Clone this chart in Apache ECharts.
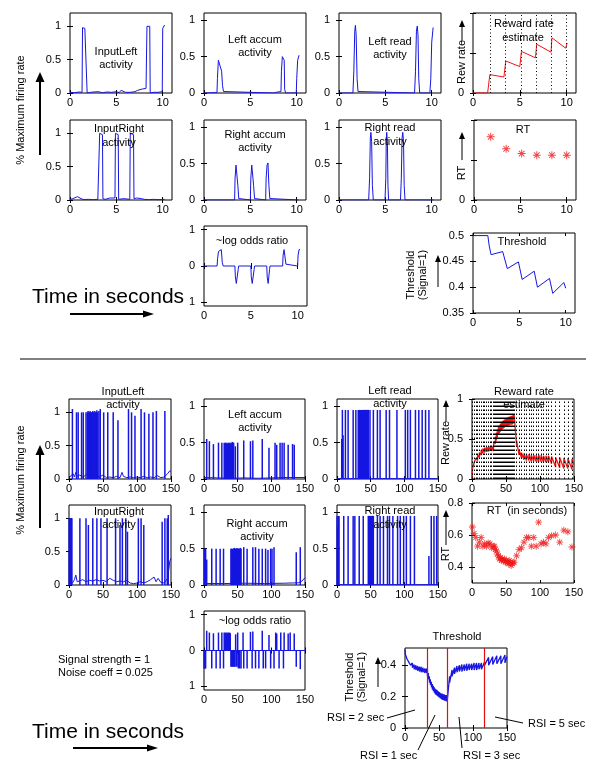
<!DOCTYPE html>
<html><head><meta charset="utf-8">
<script src="https://cdn.jsdelivr.net/npm/echarts@6/dist/echarts.min.js"></script>
<style>html,body{margin:0;padding:0;background:#fff}#c{width:601px;height:773px}</style>
</head><body><div id="c"></div>
<script>
// ================= DATA =================
const topXTicks = [0, 5, 10];
const botXTicks = [0, 50, 100, 150];

// ---- top (10 s run) ----
const topInputLeft = [[0,0.01],[0.5,0.005],[1,0.015],[1.3,0.01],[1.35,0.98],[1.6,0.97],[1.8,0.95],[1.85,0.0],[2.2,0.01],[3,0.02],[3.5,0.005],[4,0.015],[4.5,0.01],[5,0.02],[5.3,0.005],[5.5,0.04],[5.6,0.01],[6,0.01],[6.5,0.01],[7,0.02],[7.3,0.04],[7.8,0.06],[8.2,0.07],[8.3,1.0],[8.6,1.0],[8.65,0.0],[9,0.01],[9.5,0.01],[9.95,0.02],[10,0.97],[10.1,0.98],[10.2,1.02]];
const topLeftAccum = [[0,0],[1.4,0.005],[1.45,0.2],[1.55,0.45],[1.75,0.47],[1.9,0.3],[2.0,0.1],[2.1,0.02],[2.2,0],[7.5,0],[7.8,0.01],[8.3,0.02],[8.35,0.3],[8.45,0.5],[8.65,0.45],[8.7,0.05],[8.8,0],[9.95,0],[10.0,0.2],[10.1,0.45],[10.25,0.52]];
const topLeftRead = [[0,0],[1.5,0],[1.6,0.3],[1.7,0.85],[1.77,0.93],[1.85,0.8],[1.95,0.2],[2.05,0.02],[2.1,0],[8.15,0],[8.25,0.3],[8.35,0.85],[8.44,0.92],[8.52,0.8],[8.6,0.2],[8.7,0],[9.8,0],[9.9,0.2],[10.0,0.7],[10.15,0.9]];
const topInputRight = [[0,0.01],[0.3,0.02],[0.8,0.05],[1,0.03],[1.2,0.02],[1.5,0.005],[2,0.01],[2.5,0.005],[3.0,0.01],[3.18,0.02],[3.2,1.0],[3.5,0.98],[3.55,0.02],[3.8,0.01],[4.3,0.03],[4.85,0.03],[4.9,1.0],[5.2,0.98],[5.25,0.01],[5.8,0.02],[6.45,0.01],[6.5,1.0],[6.85,0.98],[6.9,0.02],[7.2,0.03],[7.7,0.02],[8,0.01],[8.5,0.005],[9,0.01],[9.5,0.005],[10.2,0.01]];
const topRightAccum = [[0,0],[3.3,0],[3.35,0.3],[3.45,0.48],[3.55,0.5],[3.65,0.2],[3.75,0.02],[3.85,0],[5.0,0],[5.05,0.3],[5.15,0.48],[5.25,0.5],[5.35,0.2],[5.45,0.02],[5.55,0],[6.65,0],[6.7,0.3],[6.8,0.48],[6.9,0.51],[7.0,0.2],[7.1,0.02],[7.2,0],[10.2,0]];
const topRightRead = [[0,0],[3.2,0],[3.3,0.3],[3.38,0.85],[3.44,0.93],[3.52,0.8],[3.6,0.2],[3.7,0],[4.96,0],[5.05,0.3],[5.1,0.85],[5.15,0.93],[5.22,0.8],[5.28,0.2],[5.35,0],[6.63,0],[6.72,0.3],[6.8,0.85],[6.88,0.93],[6.96,0.8],[7.03,0.2],[7.12,0],[10.2,0]];
const topLogOdds = [[0,0],[1.4,0],[1.45,0.2],[1.55,0.4],[1.7,0.45],[1.85,0.45],[1.95,0.1],[2.05,0],[3.3,0],[3.35,-0.3],[3.45,-0.48],[3.6,-0.5],[3.65,-0.1],[3.7,0],[5.0,0],[5.05,-0.3],[5.15,-0.48],[5.3,-0.5],[5.35,-0.1],[5.4,0],[6.7,0],[6.75,-0.3],[6.85,-0.48],[6.95,-0.5],[7.0,-0.1],[7.05,0],[8.4,0],[8.45,0.3],[8.55,0.45],[8.7,0.45],[8.75,0.05],[8.8,0],[10.0,0],[10.05,0.3],[10.15,0.45],[10.25,0.45]];
const topTrialTimes = [1.8, 3.47, 5.14, 6.77, 8.4, 10.0];
const topRT = [0.79, 0.64, 0.58, 0.56, 0.56, 0.56];
const topRewardRate = [[0,0],[1.56,0],[1.74,0.01],[1.8,0.23],[3.3,0.2],[3.47,0.2],[3.5,0.4],[5.0,0.33],[5.14,0.33],[5.17,0.52],[6.67,0.44],[6.77,0.44],[6.8,0.61],[8.33,0.51],[8.4,0.51],[8.43,0.69],[9.9,0.56],[10.0,0.56],[10.05,0.625]];
const topThreshold = [[0,0.5],[1.6,0.5],[1.75,0.48],[1.95,0.463],[3.2,0.469],[3.4,0.468],[3.7,0.436],[4.9,0.449],[5.1,0.446],[5.3,0.415],[6.6,0.431],[6.75,0.43],[6.95,0.40],[8.25,0.417],[8.4,0.416],[8.6,0.388],[9.8,0.409],[10.0,0.398]];

// ---- bottom (150 s run) ----
const botInputLeftSpikes = [[5,1.05],[11,1.0],[13.5,1.0],[18.5,1.0],[21,1.0],[25,1.0],[27,1.0],[28,1.02],[29,1.0],[30,1.0],[31,1.02],[32,1.0],[33,1.0],[34,1.0],[35,1.02],[36,1.0],[37,1.0],[38,1.02],[39,1.0],[40,1.0],[41,1.03],[42,1.0],[44,1.02],[46,1.05],[51,1.0],[57,1.0],[65,1.0],[72,0.88],[87.5,1.05],[92,1.0],[97,0.95],[106,1.05],[111,1.0],[117.5,0.98],[123.5,1.0],[128.5,1.02],[141,1.02]];
const botInputLeftBase = [[0,0.02],[3,0.05],[6,0.08],[8,0.03],[10,0.1],[12,0.04],[16,0.06],[20,0.03],[24,0.05],[28,0.1],[32,0.04],[40,0.05],[45,0.03],[50,0.06],[55,0.02],[60,0.03],[65,0.02],[70,0.04],[75,0.02],[78,0.1],[80,0.04],[85,0.02],[90,0.03],[95,0.02],[100,0.03],[105,0.02],[110,0.04],[115,0.02],[120,0.03],[125,0.02],[130,0.05],[135,0.02],[140,0.03],[145,0.08],[148,0.12],[150,0.12]];
const botLeftAccumSpikes = [[4,0.55],[8,0.52],[14,0.48],[21.5,0.5],[26.5,0.5],[30,0.5],[31,0.48],[32,0.5],[33,0.49],[34,0.5],[35,0.48],[36,0.5],[37,0.49],[38,0.5],[39,0.48],[40,0.5],[41,0.49],[42,0.51],[43,0.5],[44,0.5],[46.5,0.45],[50,0.5],[59,0.53],[69,0.52],[72.5,0.53],[86.5,0.55],[96.5,0.43],[105.5,0.5],[108,0.47],[113,0.5],[116,0.5],[119,0.5],[125,0.47],[131.5,0.48],[134,0.47]];
const botLeftAccumBase = [[0,0.02],[20,0.015],[40,0.01],[60,0.015],[80,0.01],[100,0.015],[120,0.02],[150,0.02]];
const botLeftReadSpikes = [[7,0.55],[8,0.95],[9,0.6],[12.5,0.95],[16.5,0.95],[24,0.95],[28,0.95],[31.5,0.95],[32.5,0.95],[33.5,0.95],[34.5,0.95],[35.5,0.95],[36.5,0.95],[37.5,0.95],[38.5,0.95],[39.5,0.95],[40.5,0.95],[41.5,0.95],[42.5,0.95],[43.5,0.95],[44.5,0.95],[45.5,0.95],[46.5,0.95],[49,0.95],[54,0.95],[60,0.95],[64,0.95],[73,0.95],[78,0.95],[89,0.95],[101.5,0.95],[105,0.95],[109,0.95],[116.5,0.95],[121.5,0.95],[126.5,0.95],[131.5,0.95],[136.5,0.95]];
const botInputRightSpikes = [[0,1.0],[0.7,1.0],[1.4,1.0],[2.1,1.0],[2.8,1.0],[3.5,1.0],[4.2,1.0],[16,1.0],[25,1.0],[28.5,0.9],[35,1.0],[41,1.0],[47,1.0],[56,1.0],[68.5,1.0],[75,0.9],[78.5,1.0],[83.5,1.0],[86,0.8],[102,1.0],[106,1.0],[110,0.9],[137,0.95],[141,1.0],[144.5,1.0],[146,1.05]];
const botInputRightBase = [[0,0.05],[5,0.03],[8,0.08],[10,0.15],[12,0.05],[15,0.06],[20,0.08],[25,0.05],[30,0.07],[35,0.06],[40,0.08],[45,0.06],[50,0.07],[55,0.05],[60,0.1],[65,0.07],[70,0.05],[75,0.06],[80,0.05],[85,0.07],[90,0.03],[95,0.02],[100,0.03],[105,0.05],[110,0.03],[115,0.05],[120,0.08],[125,0.12],[128,0.05],[131,0.1],[135,0.04],[140,0.03],[145,0.1],[147,0.25],[148,0.35],[150,0.4]];
const botRightAccumSpikes = [[0,0.5],[0.8,0.5],[1.6,0.5],[2.4,0.5],[4,0.35],[11.5,0.5],[18,0.5],[24,0.5],[29,0.5],[40,0.5],[41,0.5],[42,0.49],[43,0.5],[44,0.5],[45,0.51],[46,0.5],[47,0.5],[48,0.5],[49,0.51],[50,0.5],[51,0.5],[52,0.5],[53,0.5],[54,0.51],[55,0.5],[59,0.52],[64,0.5],[72.5,0.52],[76.5,0.52],[81.5,0.5],[86.5,0.5],[91.5,0.5],[95,0.48],[99,0.5],[101,0.5],[104,0.52],[137,0.45],[143,0.52]];
const botRightAccumBase = [[0,0.02],[30,0.02],[60,0.025],[90,0.02],[120,0.025],[140,0.03],[145,0.05],[150,0.1]];
const botRightReadSpikes = [[0,0.95],[1,0.8],[2,0.95],[3,0.95],[10,0.95],[16.5,0.95],[24,0.95],[26.5,0.95],[33,0.95],[39,0.95],[46.5,0.95],[47.5,0.95],[48.5,0.95],[49.5,0.95],[50.5,0.95],[51.5,0.95],[52.5,0.95],[54,0.95],[60,0.95],[64,0.95],[69,0.95],[75,0.95],[78,0.95],[83,0.95],[90,0.95],[94,0.95],[99,0.95],[103,0.95],[109,0.95],[115,0.95],[136.5,0.4],[140,0.95],[144,0.95],[148,0.95]];
const botLogOddsSpikes = [[0,-0.5],[0.8,-0.5],[1.6,-0.5],[2.4,-0.5],[4,0.55],[8,0.5],[11.5,-0.5],[14,0.48],[18,-0.5],[21.5,0.5],[24,-0.5],[26.5,0.5],[29,-0.5],[30,0.5],[31,0.48],[32,0.5],[33,0.49],[34,0.5],[35,0.48],[36,0.5],[37,0.49],[38,0.5],[39,0.48],[40,-0.45],[41,-0.45],[42,-0.45],[43,-0.45],[44,-0.45],[45,-0.45],[46,-0.45],[47,0.45],[48,-0.45],[49,-0.45],[50,0.5],[51,-0.5],[53,-0.5],[55,-0.5],[58,0.5],[59,-0.5],[64,-0.5],[69,0.52],[71.5,-0.5],[72.5,0.53],[76.5,-0.5],[81.5,-0.5],[86.5,0.55],[88,-0.5],[91.5,-0.5],[96.5,0.43],[99,-0.5],[104,-0.5],[106.5,0.5],[108,0.47],[111.5,-0.5],[114,0.5],[118,-0.5],[119,0.5],[125,0.47],[128,0.5],[134,0.47],[137,-0.45],[143,-0.52]];

const botTrialTimes = [0.5,3,5.6,8.2,10.8,13.4,16,18.6,21.2,23.8,26.4,29,31.6,
  33,34.4,35.9,37.3,38.8,40.2,41.7,43.1,44.6,46,47.5,48.9,50.4,51.8,53.3,54.7,56.2,57.6,59.1,60.5,
  62,65.6,69.2,72.8,76.4,80,83.6,87.2,90.8,94.4,98,101.6,105.2,108.8,112.4,
  117,123,129,135,141,147];
const botRT = [0.65,0.61,0.585,0.53,0.555,0.585,0.53,0.545,0.53,0.55,0.545,0.52,0.53,
  0.53,0.51,0.50,0.48,0.47,0.45,0.46,0.44,0.45,0.44,0.45,0.43,0.44,0.43,0.42,0.44,0.43,0.41,0.42,0.43,
  0.43,0.47,0.51,0.52,0.555,0.585,0.585,0.53,0.585,0.53,0.68,0.545,0.555,0.545,0.585,
  0.595,0.60,0.555,0.63,0.62,0.525];
const botRewLo = [0.0,0.10,0.18,0.23,0.27,0.30,0.32,0.33,0.34,0.34,0.35,0.35,0.35,
  0.40,0.44,0.48,0.52,0.55,0.57,0.59,0.61,0.62,0.63,0.64,0.65,0.66,0.66,0.67,0.67,0.68,0.68,0.68,0.69,
  0.76,0.42,0.30,0.26,0.24,0.23,0.23,0.22,0.22,0.22,0.21,0.22,0.21,0.21,0.21,
  0.19,0.15,0.14,0.13,0.13,0.12];
const botRewHi = [0.12,0.20,0.26,0.30,0.33,0.36,0.38,0.39,0.40,0.40,0.41,0.41,0.42,
  0.47,0.53,0.58,0.62,0.65,0.67,0.69,0.71,0.72,0.73,0.74,0.75,0.76,0.77,0.77,0.78,0.78,0.79,0.79,0.80,
  0.80,0.48,0.37,0.33,0.32,0.31,0.31,0.30,0.30,0.30,0.30,0.30,0.29,0.29,0.29,
  0.28,0.27,0.27,0.26,0.26,0.25];
const botRewEnd = 0.18;
const botThrHi = [0.50,0.475,0.45,0.43,0.415,0.405,0.40,0.395,0.39,0.39,0.385,0.38,0.38,
  0.37,0.35,0.33,0.31,0.295,0.28,0.27,0.26,0.25,0.245,0.24,0.235,0.23,0.225,0.22,0.22,0.215,0.215,0.21,0.21,
  0.21,0.33,0.37,0.385,0.395,0.40,0.405,0.405,0.41,0.41,0.41,0.415,0.415,0.415,0.415,
  0.42,0.45,0.455,0.46,0.46,0.465];
const botThrLo = [0.47,0.44,0.42,0.40,0.385,0.375,0.37,0.365,0.36,0.355,0.355,0.35,0.35,
  0.33,0.31,0.29,0.275,0.26,0.245,0.235,0.225,0.215,0.21,0.205,0.20,0.195,0.19,0.185,0.18,0.18,0.175,0.175,0.17,
  0.17,0.29,0.33,0.345,0.355,0.36,0.36,0.365,0.365,0.37,0.37,0.37,0.37,0.375,0.375,
  0.40,0.40,0.405,0.41,0.41,0.415];
const botThrEnd = 0.455;
const botRsiBounds = [32, 61.5, 117];

// ================= BUILD =================
const FONT = "'Liberation Sans', Arial, Helvetica, sans-serif";
const BLUE = '#1616e0';
const RED = '#f01414';
const grids = [], xAxes = [], yAxes = [], series = [];

function panel(l, t, w, h, xmin, xmax, xticks, ymin, ymax, yticks, ylabels, yfmt) {
  const g = grids.length;
  grids.push({left: l, top: t, width: w, height: h, show: true, borderColor: '#000', borderWidth: 1, backgroundColor: 'rgba(0,0,0,0)'});
  const tick = v => ({show: true, inside: true, length: 3, customValues: v, lineStyle: {color: '#000', width: 1}});
  const lab = (v, m, f) => ({show: true, customValues: v, margin: m, color: '#000', fontSize: 11, fontFamily: FONT, formatter: f || (x => String(x))});
  const base = {type: 'value', gridIndex: g, axisLine: {show: false}, splitLine: {show: false}};
  xAxes.push(Object.assign({}, base, {min: xmin, max: xmax, position: 'bottom', axisTick: tick(xticks), axisLabel: lab(xticks, 4)}));
  xAxes.push(Object.assign({}, base, {min: xmin, max: xmax, position: 'top', axisTick: tick(xticks), axisLabel: {show: false}}));
  yAxes.push(Object.assign({}, base, {min: ymin, max: ymax, position: 'left', axisTick: tick(yticks), axisLabel: lab(ylabels, 9, yfmt)}));
  yAxes.push(Object.assign({}, base, {min: ymin, max: ymax, position: 'right', axisTick: tick(yticks), axisLabel: {show: false}}));
  return g;
}
const ax = g => ({xAxisIndex: 2 * g, yAxisIndex: 2 * g, animation: false});
function line(g, data, color, z, w) {
  series.push(Object.assign(ax(g), {type: 'line', data, symbol: 'none', showSymbol: false, lineStyle: {width: w || 1, color}, itemStyle: {color}, z: z || 3}));
}
function bars(g, data) {
  series.push(Object.assign(ax(g), {type: 'bar', data, barWidth: 1.5, itemStyle: {color: BLUE}, z: 3}));
}
const STAR = 'path://M0,8.8 L20,8.8 L20,11.2 L0,11.2 Z M8.8,0 L11.2,0 L11.2,20 L8.8,20 Z M3.85,2.15 L17.85,16.15 L16.15,17.85 L2.15,3.85 Z M2.15,16.15 L16.15,2.15 L17.85,3.85 L3.85,17.85 Z';
function stars(g, data, size) {
  series.push(Object.assign(ax(g), {type: 'scatter', data, symbol: STAR, symbolSize: size || 7, itemStyle: {color: RED}, z: 4}));
}
function vlines(g, xs, color, dash, z, w) {
  series.push(Object.assign(ax(g), {type: 'line', data: [], z: z || 2, markLine: {silent: true, animation: false, symbol: ['none', 'none'], label: {show: false},
    lineStyle: {color, width: w || 1, type: dash, opacity: 1}, emphasis: {disabled: true}, data: xs.map(x => ({xAxis: x}))}}));
}
const absFmt = v => String(Math.abs(v));
const Y1 = [0, 0.5, 1];

// ---- top panels ----
let g;
g = panel(70, 13, 102, 80, 0, 11, topXTicks, 0, 1.2, Y1, Y1); line(g, topInputLeft, BLUE);
g = panel(204, 13, 102, 80, 0, 11, topXTicks, 0, 1.1, Y1, Y1); line(g, topLeftAccum, BLUE);
g = panel(339, 13, 102, 80, 0, 11, topXTicks, 0, 1.1, Y1, Y1); line(g, topLeftRead, BLUE);
g = panel(473, 13, 103, 80, 0, 11, topXTicks, 0, 1, Y1, [0]);
vlines(g, topTrialTimes, '#000', [1, 2.5]); line(g, topRewardRate, RED);
g = panel(70, 120, 102, 80, 0, 11, topXTicks, 0, 1.2, Y1, Y1); line(g, topInputRight, BLUE);
g = panel(204, 120, 102, 80, 0, 11, topXTicks, 0, 1.1, Y1, Y1); line(g, topRightAccum, BLUE);
g = panel(339, 120, 102, 80, 0, 11, topXTicks, 0, 1.1, Y1, Y1); line(g, topRightRead, BLUE);
g = panel(474, 120, 102, 80, 0, 11, topXTicks, 0, 1, Y1, [0]);
stars(g, topTrialTimes.map((t, i) => [t, topRT[i]]), 8);
g = panel(204, 226, 103, 80, 0, 11, topXTicks, -1.1, 1.1, [-1, 0, 1], [-1, 0, 1], absFmt); line(g, topLogOdds, BLUE);
g = panel(473, 233, 102, 80, 0, 11, topXTicks, 0.35, 0.505, [0.35, 0.4, 0.45, 0.5], [0.35, 0.4, 0.45, 0.5]); line(g, topThreshold, BLUE);

// ---- bottom panels ----
g = panel(69, 399, 102, 80, 0, 150, botXTicks, 0, 1.2, Y1, Y1); line(g, botInputLeftBase, BLUE); bars(g, botInputLeftSpikes);
g = panel(204, 399, 101, 80, 0, 150, botXTicks, 0, 1.1, Y1, Y1); line(g, botLeftAccumBase, BLUE); bars(g, botLeftAccumSpikes);
g = panel(337, 399, 101, 80, 0, 150, botXTicks, 0, 1.1, Y1, Y1); line(g, [[0, 0.005], [150, 0.005]], BLUE); bars(g, botLeftReadSpikes);
g = panel(472, 399, 102, 80, 0, 150, botXTicks, 0, 1, Y1, Y1);
vlines(g, botTrialTimes, '#000', [1.5, 2.5], 2, 1);
{
  const d = [[0, 0]];
  botTrialTimes.forEach((t, i) => { d.push([t, botRewLo[i]], [t, botRewHi[i]]); });
  d.push([150, botRewEnd]);
  line(g, d, RED, 3, 1.3);
}
g = panel(69, 505, 102, 80, 0, 150, botXTicks, 0, 1.2, Y1, Y1); line(g, botInputRightBase, BLUE); bars(g, botInputRightSpikes);
g = panel(204, 505, 101, 80, 0, 150, botXTicks, 0, 1.1, Y1, Y1); line(g, botRightAccumBase, BLUE); bars(g, botRightAccumSpikes);
g = panel(337, 505, 101, 80, 0, 150, botXTicks, 0, 1.1, Y1, Y1); line(g, [[0, 0.005], [150, 0.005]], BLUE); bars(g, botRightReadSpikes);
g = panel(472, 503, 102, 80, 0, 150, botXTicks, 0.3, 0.8, [0.4, 0.6, 0.8], [0.4, 0.6, 0.8]);
stars(g, botTrialTimes.map((t, i) => [t, botRT[i]]), 7);
g = panel(204, 611, 101, 79, 0, 150, botXTicks, -1.1, 1.1, [-1, 0, 1], [-1, 0, 1], absFmt);
line(g, [[0, 0], [150, 0]], BLUE); bars(g, botLogOddsSpikes);
g = panel(405, 648, 102, 80, 0, 150, botXTicks, 0, 0.51, [0, 0.2, 0.4], [0, 0.2, 0.4]);
{
  const d = [[0, 0.5]];
  botTrialTimes.forEach((t, i) => { d.push([t, botThrHi[i]], [t, botThrLo[i]]); });
  d.push([150, botThrEnd]);
  line(g, d, BLUE, 3, 1.3);
}
vlines(g, botRsiBounds, '#e01010', 'solid', 6, 1.2);

// ---- text & annotation graphics ----
const G = [];
function txt(s, x, y, o) {
  o = o || {};
  const al = o.align || 'center';
  G.push({type: 'text', x, y, rotation: o.rot || 0, z: 100,
    style: {text: s, fill: '#000', font: (o.size || 11) + 'px ' + FONT, align: al, textAlign: al, verticalAlign: 'middle', textVerticalAlign: 'middle'}});
}
function seg(x1, y1, x2, y2, w) {
  G.push({type: 'line', z: 100, shape: {x1, y1, x2, y2}, style: {stroke: '#000', lineWidth: w || 1}});
}
function tri(pts) { G.push({type: 'polygon', z: 100, shape: {points: pts}, style: {fill: '#000'}}); }
function arrowUp(x, yb, yt, w, hl, hw) { seg(x, yb, x, yt + hl - 1, w); tri([[x, yt], [x - hw, yt + hl], [x + hw, yt + hl]]); }
function arrowRight(y, xl, xt, w, hl, hw) { seg(xl, y, xt - hl + 1, y, w); tri([[xt, y], [xt - hl, y - hw], [xt - hl, y + hw]]); }
const UP = Math.PI / 2;

// top titles
txt('InputLeft', 116, 52); txt('activity', 116, 65);
txt('Left accum', 255, 40); txt('activity', 255, 53);
txt('Left read', 390, 42); txt('activity', 390, 55);
txt('Reward rate', 524, 24); txt('estimate', 523, 38);
txt('InputRight', 119, 129); txt('activity', 119, 143);
txt('Right accum', 255, 135); txt('activity', 255, 148);
txt('Right read', 390, 128); txt('activity', 390, 142);
txt('RT', 523, 130);
txt('~log odds ratio', 252, 241);
txt('Threshold', 522, 242);
txt('% Maximum firing rate', 21, 110, {rot: UP}); arrowUp(40, 155, 72, 2, 10, 4.5);
txt('Time in seconds', 108, 297, {size: 21}); arrowRight(314, 70, 154, 2, 11, 3.5);
txt('Rew rate', 462, 62, {rot: UP}); arrowUp(462, 42, 20, 1, 7, 3);
txt('RT', 462, 173, {rot: UP}); arrowUp(462, 160, 132, 1, 7, 3);
txt('Threshold', 411, 275, {rot: UP}); txt('(Signal=1)', 423, 275, {rot: UP}); arrowUp(438, 287, 255, 1, 7, 3);

// separator
seg(20, 359, 586, 359, 1);

// bottom titles
txt('InputLeft', 123, 392); txt('activity', 123, 405);
txt('Left accum', 255, 415); txt('activity', 255, 428);
txt('Left read', 390, 391); txt('activity', 390, 404);
txt('Reward rate', 524, 392); txt('estimate', 524, 405);
txt('InputRight', 119, 512); txt('activity', 119, 525);
txt('Right accum', 257, 524); txt('activity', 257, 537);
txt('Right read', 390, 511); txt('activity', 390, 525);
txt('RT  (in seconds)', 527, 511);
txt('~log odds ratio', 255, 621);
txt('Threshold', 457, 637);
txt('Signal strength = 1', 58, 660, {align: 'left'});
txt('Noise coeff = 0.025', 58, 673, {align: 'left'});
txt('% Maximum firing rate', 21, 480, {rot: UP}); arrowUp(40, 528, 445, 2, 10, 4.5);
txt('Time in seconds', 108, 732, {size: 21}); arrowRight(748, 73, 158, 2, 11, 3.5);
txt('Rew rate', 446, 443, {rot: UP}); arrowUp(446, 422, 400, 1, 7, 3);
txt('RT', 446, 554, {rot: UP}); arrowUp(446, 545, 510, 1, 7, 3);
txt('Threshold', 350, 677, {rot: UP}); txt('(Signal=1)', 362, 677, {rot: UP}); arrowUp(378, 687, 657, 1, 7, 3);
txt('RSI = 2 sec', 327, 718, {align: 'left'}); seg(387, 718, 415, 710);
txt('RSI = 1 sec', 360, 756, {align: 'left'}); seg(418, 750, 435, 715);
txt('RSI = 3 sec', 463, 756, {align: 'left'}); seg(462, 748, 459, 717);
txt('RSI = 5 sec', 528, 724, {align: 'left'}); seg(523, 723, 495, 717);

const chart = echarts.init(document.getElementById('c'), null, {renderer: 'canvas'});
chart.setOption({
  animation: false,
  backgroundColor: '#fff',
  textStyle: {fontFamily: FONT},
  grid: grids, xAxis: xAxes, yAxis: yAxes, series,
  graphic: {elements: G}
});
</script></body></html>
